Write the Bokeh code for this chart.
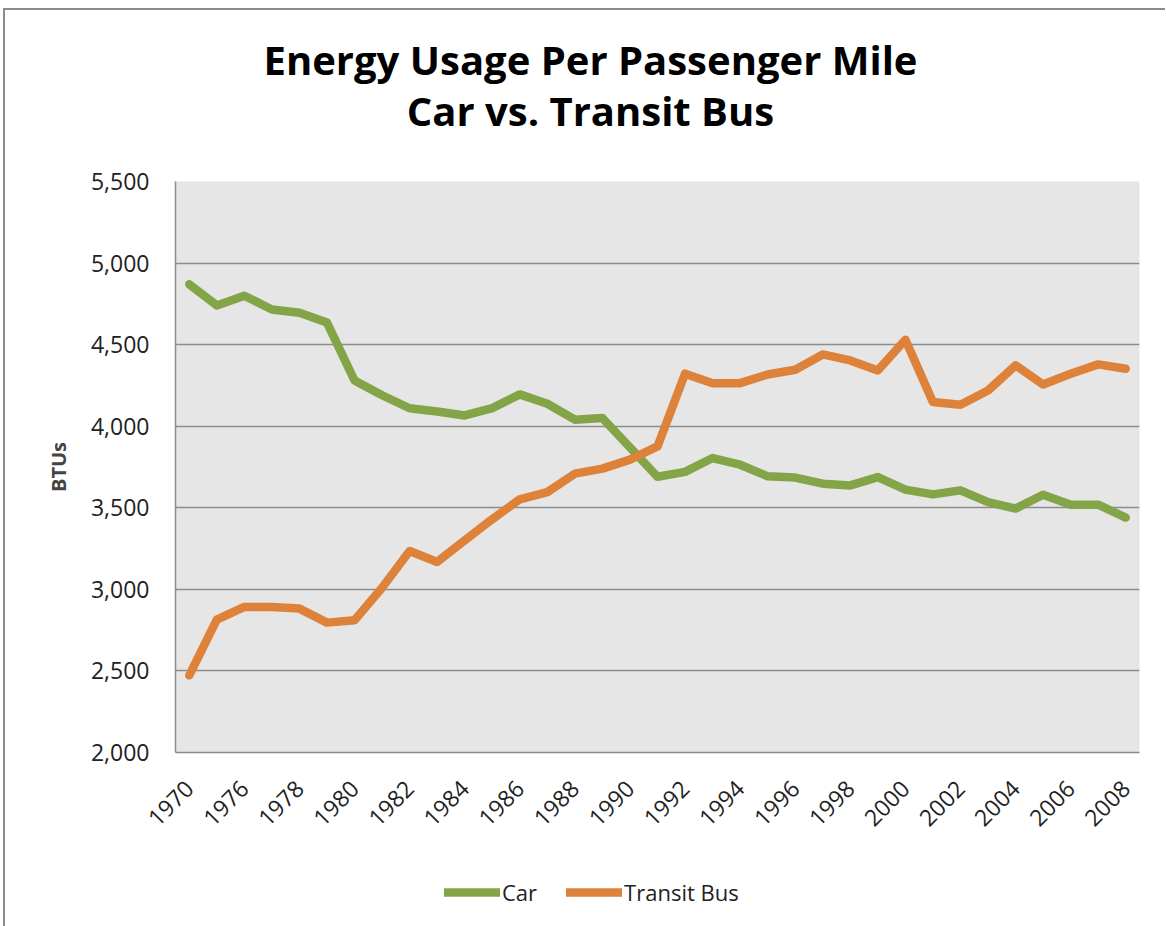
from bokeh.plotting import figure
from bokeh.models import Range1d, FixedTicker, NumeralTickFormatter, Legend, LegendItem, Label
from bokeh.layouts import column
from bokeh.embed import file_html
from bokeh.resources import INLINE

years = ["1970"] + [str(y) for y in range(1975, 2009)]
car = [4870, 4740, 4800, 4715, 4695, 4635, 4280, 4190, 4110, 4090, 4066, 4111,
       4195, 4138, 4040, 4050, 3870, 3690, 3720, 3805, 3764, 3693, 3685, 3648,
       3637, 3688, 3611, 3582, 3607, 3535, 3495, 3580, 3519, 3519, 3440]
bus = [2473, 2815, 2892, 2892, 2882, 2796, 2810, 3010, 3235, 3168, 3300, 3430,
       3552, 3596, 3709, 3740, 3795, 3876, 4322, 4264, 4264, 4317, 4346, 4440,
       4403, 4342, 4530, 4148, 4132, 4219, 4373, 4256, 4322, 4379, 4352]
y_ticks = [2000, 2500, 3000, 3500, 4000, 4500, 5000, 5500]
title_lines = ["Energy Usage Per Passenger Mile", "Car vs. Transit Bus"]
series_names = ["Car", "Transit Bus"]
colors = ["#83A447", "#DE8139"]

FONT = "Open Sans"
W = 1160
idx = list(range(len(years)))


def blank(height):
    # frames of plots in a column are aligned with the main chart's frame;
    # x range expressed in page pixels of that frame (176..1140)
    f = figure(width=W, height=height, x_range=Range1d(176, 1140), y_range=Range1d(height, 0),
               output_backend="svg", toolbar_location=None,
               x_axis_location=None, y_axis_location=None,
               min_border_left=0, min_border_right=0, min_border_top=0, min_border_bottom=0)
    f.outline_line_color = None
    f.grid.visible = False
    f.background_fill_color = "white"
    f.border_fill_color = "white"
    return f


# ---- title strip ----
pt = blank(151)
for txt, yy in zip(title_lines, [49, 100]):
    pt.add_layout(Label(x=591, y=yy, text=txt, text_font=FONT, text_font_style="bold",
                        text_font_size="40px", text_align="center",
                        text_baseline="middle", text_color="black"))

# ---- main chart ----
p = figure(width=W, height=691, x_range=Range1d(-0.5, len(years) - 0.5),
           y_range=Range1d(2000, 5500), output_backend="svg", toolbar_location=None,
           min_border_left=170, min_border_right=26, min_border_top=20, min_border_bottom=100,
           background_fill_color="#E6E6E6", border_fill_color="white")
p.outline_line_color = None

r_car = p.line(idx, car, line_color=colors[0], line_width=8.5, line_join="round", line_cap="round")
r_bus = p.line(idx, bus, line_color=colors[1], line_width=8.5, line_join="round", line_cap="round")

p.xgrid.grid_line_color = None
p.ygrid.grid_line_color = "#8C8C8C"
p.ygrid.grid_line_width = 1.5

p.yaxis.ticker = FixedTicker(ticks=y_ticks)
p.yaxis.formatter = NumeralTickFormatter(format="0,0")
p.yaxis.major_tick_out = 0
p.yaxis.major_tick_in = 0
p.yaxis.minor_tick_line_color = None
p.yaxis.major_label_standoff = 26
p.yaxis.major_label_text_font = FONT
p.yaxis.major_label_text_font_size = "23px"
p.yaxis.major_label_text_color = "#222222"
p.yaxis.axis_line_color = "#8C8C8C"
p.yaxis.axis_line_width = 1.5
p.yaxis.axis_label = "BTUs"
p.yaxis.axis_label_text_font = FONT
p.yaxis.axis_label_text_font_style = "bold"
p.yaxis.axis_label_text_font_size = "20px"
p.yaxis.axis_label_standoff = 16

shown = idx[::2]
p.xaxis.ticker = FixedTicker(ticks=shown)
p.xaxis.major_label_overrides = {i: years[i] for i in shown}
p.xaxis.major_tick_out = 0
p.xaxis.major_tick_in = 0
p.xaxis.minor_tick_line_color = None
p.xaxis.major_label_orientation = 0.785398
p.xaxis.major_label_standoff = 32
p.xaxis.major_label_text_font = FONT
p.xaxis.major_label_text_font_size = "23px"
p.xaxis.major_label_text_color = "#222222"
p.xaxis.axis_line_color = "#8C8C8C"
p.xaxis.axis_line_width = 1.5

# ---- legend strip (series drawn again here only to give the legend its swatches;
#      their values fall outside this strip's range, so nothing shows but the legend) ----
pl = blank(74)
lg_car = pl.line(idx, car, line_color=colors[0], line_width=8.5, line_cap="round")
lg_bus = pl.line(idx, bus, line_color=colors[1], line_width=8.5, line_cap="round")
legend = Legend(items=[LegendItem(label=series_names[0], renderers=[lg_car]),
                       LegendItem(label=series_names[1], renderers=[lg_bus])],
                location=(269, 19), orientation="horizontal",
                glyph_width=56, glyph_height=30, label_height=30, label_standoff=2,
                spacing=29, padding=0, margin=0,
                label_text_font=FONT, label_text_font_size="22px", label_text_color="#222222",
                border_line_color=None, background_fill_alpha=0)
pl.add_layout(legend, "center")

layout = column(pt, p, pl, spacing=0,
                styles={"margin-left": "3px", "margin-top": "8px",
                        "border-top": "2px solid #8C8C8C", "border-left": "2px solid #8C8C8C"})

open("out.html", "w").write(file_html(layout, INLINE))
